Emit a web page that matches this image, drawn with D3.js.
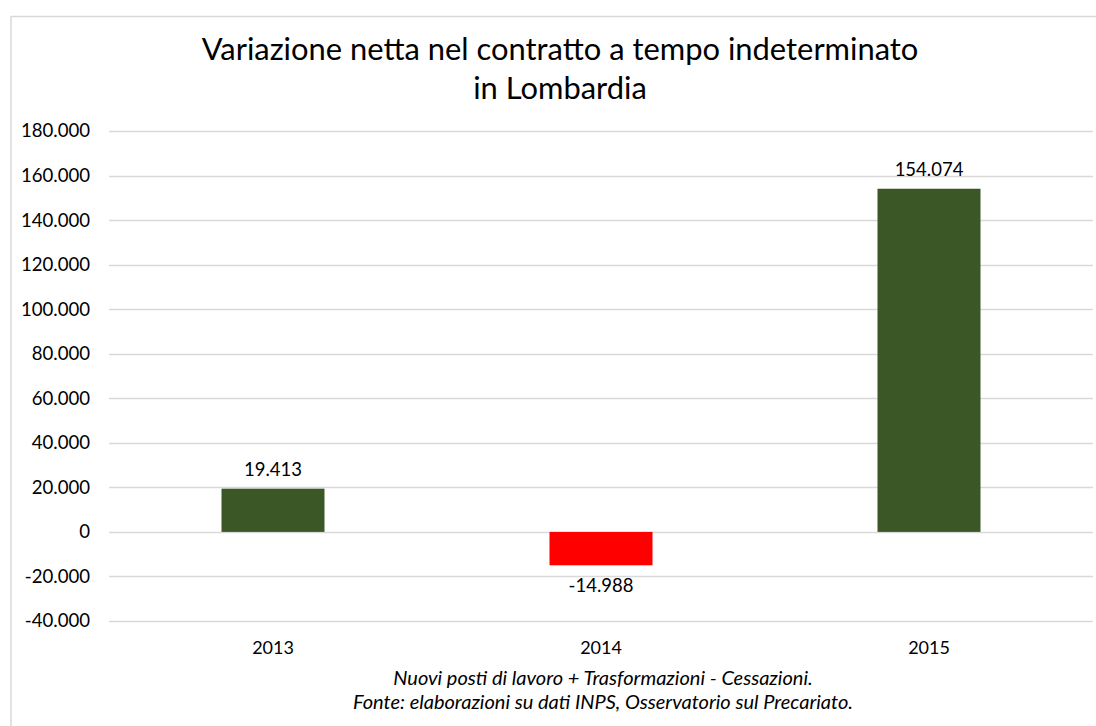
<!DOCTYPE html>
<html><head><meta charset="utf-8">
<script src="https://cdn.jsdelivr.net/npm/d3@7"></script>
<style>body{margin:0;background:#fff;} svg{display:block;}</style>
</head><body>
<svg id="chart" width="1096" height="726"></svg>
<script>
const categories = ["2013", "2014", "2015"];
const values = [19413, -14988, 154074];
const yTicks = [-40000, -20000, 0, 20000, 40000, 60000, 80000, 100000, 120000, 140000, 160000, 180000];
const titleLines = ["Variazione netta nel contratto a tempo indeterminato", "in Lombardia"];
const noteLines = ["Nuovi posti di lavoro + Trasformazioni - Cessazioni.", "Fonte: elaborazioni su dati INPS, Osservatorio sul Precariato."];

(function () {
const svg = d3.select("#chart");
const font = "Lato, 'Open Sans', sans-serif";
const fmt = v => d3.format(",")(v).replace(/,/g, ".").replace("−", "-");

// frame
svg.append("rect").attr("x", 11).attr("y", 16.5).attr("width", 1200).attr("height", 800)
  .attr("fill", "#fff").attr("stroke", "#d9d9d9").attr("stroke-width", 1.5);

const pLeft = 109, pRight = 1093, pTop = 131, pBottom = 621;
const x = d3.scaleBand().domain(categories).range([pLeft, pRight]).paddingInner(0.686).paddingOuter(0.343);
const y = d3.scaleLinear().domain([-40000, 180000]).range([pBottom, pTop]);

// grid
svg.append("g").selectAll("line").data(yTicks).join("line")
  .attr("x1", pLeft).attr("x2", pRight)
  .attr("y1", d => Math.round(y(d)) + 0.5).attr("y2", d => Math.round(y(d)) + 0.5)
  .attr("stroke", "#d9d9d9").attr("stroke-width", 1.3);

// y axis
const yAxis = d3.axisLeft(y).tickValues(yTicks).tickFormat(fmt).tickSize(0).tickPadding(0);
const gy = svg.append("g").attr("transform", `translate(90,0)`).call(yAxis);
gy.select(".domain").remove();
gy.selectAll("text").attr("font-family", font).attr("font-size", 18.6).attr("fill", "#000");

// x axis
const xAxis = d3.axisBottom(x).tickSize(0).tickPadding(0);
const gx = svg.append("g").attr("transform", `translate(0,641)`).call(xAxis);
gx.select(".domain").remove();
gx.selectAll("text").attr("font-family", font).attr("font-size", 18).attr("fill", "#000");

// bars
svg.append("g").selectAll("rect").data(values).join("rect")
  .attr("x", (d, i) => x(categories[i]))
  .attr("width", x.bandwidth())
  .attr("y", d => y(Math.max(0, d)))
  .attr("height", d => Math.abs(y(d) - y(0)))
  .attr("fill", d => d >= 0 ? "#3b5725" : "#ff0000");

// labels
svg.append("g").selectAll("text").data(values).join("text")
  .attr("x", (d, i) => x(categories[i]) + x.bandwidth() / 2)
  .attr("y", d => d >= 0 ? y(d) - 12.5 : y(d) + 27)
  .attr("text-anchor", "middle")
  .attr("font-family", font).attr("font-size", 18.5).attr("fill", "#000")
  .text(fmt);

// title
svg.append("g").selectAll("text").data(titleLines).join("text")
  .attr("x", 560).attr("y", (d, i) => 60 + i * 39)
  .attr("text-anchor", "middle")
  .attr("font-family", font).attr("font-size", 30.9).attr("fill", "#000")
  .text(d => d);

// note
svg.append("g").selectAll("text").data(noteLines).join("text")
  .attr("x", 603).attr("y", (d, i) => 685 + i * 24)
  .attr("text-anchor", "middle")
  .attr("font-family", font).attr("font-style", "italic").attr("font-size", 20).attr("fill", "#000")
  .text(d => d);
})();
</script>
</body></html>
